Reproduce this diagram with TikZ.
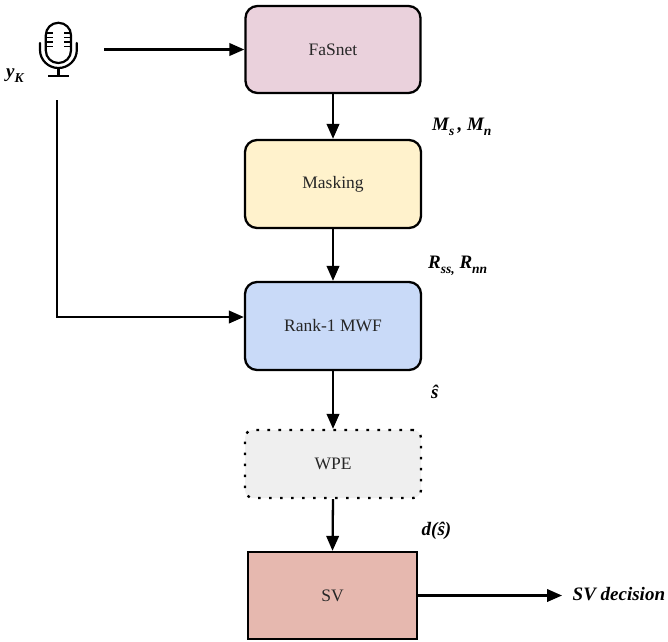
\documentclass[tikz,border=0pt]{standalone}
\usepackage{fontspec}
\setmainfont{Liberation Serif}
\usetikzlibrary{arrows.meta}
\definecolor{cfa}{HTML}{EAD1DC}
\definecolor{cma}{HTML}{FFF2CC}
\definecolor{cmw}{HTML}{C9DAF8}
\definecolor{cwp}{HTML}{EFEFEF}
\definecolor{csv}{HTML}{E6B8AF}
\newcommand{\lowsub}[1]{\raisebox{-5.5pt}{\fontsize{13.5}{14}\selectfont #1}}
\begin{document}
\begin{tikzpicture}[x=1pt,y=1pt,
  blk/.style={draw=black, line width=2.3pt, rounded corners=12pt, inner sep=0pt,
    font=\fontsize{17.5}{20}\selectfont, text=black!85},
  arr/.style={line width=2.3pt, -{Triangle[length=15pt,width=12.5pt]}},
  lab/.style={anchor=base west, inner sep=0pt, font=\fontsize{19}{22}\selectfont\bfseries\itshape},
  micline/.style={line width=2.2pt, line cap=round}]
\useasboundingbox (0,0) rectangle (668,-641);
% blocks
\node[blk, fill=cfa, minimum width=175pt, minimum height=87pt] (fa) at (333,-49.5) {FaSnet};
\node[blk, fill=cma, minimum width=176pt, minimum height=88pt] (ma) at (333,-184) {Masking};
\node[blk, fill=cmw, minimum width=176pt, minimum height=88pt] (mw) at (333,-326) {Rank-1 MWF};
\node[blk, fill=cwp, draw=black, rounded corners=8pt, dash pattern=on 2.6pt off 8.4pt,
  minimum width=176pt, minimum height=68pt] (wp) at (333,-464) {WPE};
\node[blk, fill=csv, rounded corners=0pt, minimum width=169pt, minimum height=87pt] (sv) at (332.5,-595.5) {SV};
% microphone
\draw[micline, rounded corners=12.4pt] (45.8,-22.8) rectangle (71,-63);
\foreach \yy in {33,37.5,42,46.5} {
  \draw[line width=1.5pt] (46,-\yy) -- (52.5,-\yy);
  \draw[line width=1.5pt] (64.3,-\yy) -- (70.8,-\yy);
}
\draw[micline] (40,-43) -- (40,-50) arc (180:360:18.4 and 18) -- (76.8,-43);
\draw[line width=2.2pt] (58.4,-68) -- (58.4,-75.5);
\draw[line width=2.6pt] (48,-76) -- (68.8,-76);
\node[lab] (yk) at (6,-77) {y\lowsub{K}};
% connectors
\coordinate (micout) at (104,-49.5);
\coordinate (micdown) at (57,-100);
\draw[arr] (micout) -- (fa.west);
\draw[arr] (fa.south) -- (ma.north);
\draw[arr] (ma.south) -- (mw.north);
\draw[arr] (micdown) |- ([yshift=9pt]mw.west);
\draw[arr] (mw.south) -- (wp.north);
\draw[arr] (wp.south) -- (sv.north);
\coordinate (dec) at (562,-595.5);
\draw[arr] (sv.east) -- (dec);
% labels
\node[lab] (lms) at (432,-130) {M\lowsub{s}\,, M\lowsub{n}};
\node[lab] (lrs) at (428,-268) {R\lowsub{ss,} R\lowsub{nn}};
\node[lab] (lsh) at (431,-398) {ŝ};
\node[lab] (lds) at (421.5,-535) {d(ŝ)};
\node[lab] (lsv) at (572.5,-600.5) {SV decision};
\end{tikzpicture}
\end{document}
